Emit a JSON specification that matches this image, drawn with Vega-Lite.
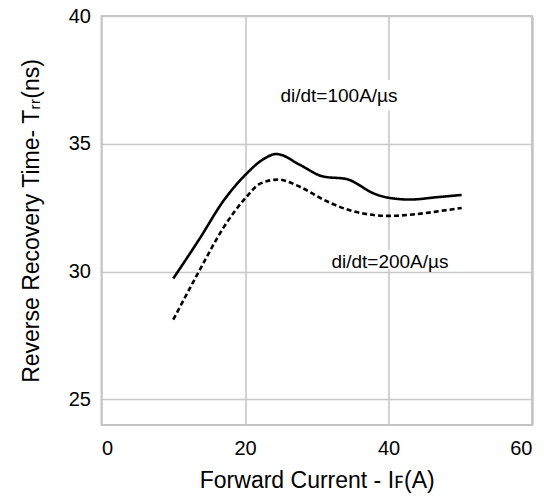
{
  "$schema": "https://vega.github.io/schema/vega-lite/v6.json",
  "autosize": "none",
  "width": 430.5,
  "height": 409,
  "padding": {"left": 101.5, "top": 16, "right": 12, "bottom": 71},
  "background": "white",
  "config": {
    "font": "Liberation Sans",
    "view": {"stroke": "#c4c4c4", "strokeWidth": 2},
    "axis": {"gridColor": "#c8c8c8", "gridWidth": 1.6, "domain": false, "ticks": false, "labelColor": "#000", "titleColor": "#000", "labelFont": "Liberation Sans", "titleFont": "Liberation Sans", "titleFontWeight": "normal"}
  },
  "title": {"text": "Figure 10. Maximum Reverse Recovery Time vs. Forward Current", "anchor": "start", "frame": "group", "dx": -86, "offset": 17, "baseline": "alphabetic", "fontSize": 17, "fontWeight": "normal", "font": "Liberation Sans", "color": "#000"},
  "datasets": {
    "curves": [
      {"rate": "100A/µs", "current": 10.0, "trr": 29.73},
      {"rate": "100A/µs", "current": 13.7, "trr": 31.3},
      {"rate": "100A/µs", "current": 17.0, "trr": 32.77},
      {"rate": "100A/µs", "current": 20.1, "trr": 33.8},
      {"rate": "100A/µs", "current": 22.3, "trr": 34.35},
      {"rate": "100A/µs", "current": 24.4, "trr": 34.6},
      {"rate": "100A/µs", "current": 27.7, "trr": 34.17},
      {"rate": "100A/µs", "current": 30.9, "trr": 33.72},
      {"rate": "100A/µs", "current": 34.2, "trr": 33.62},
      {"rate": "100A/µs", "current": 35.6, "trr": 33.44},
      {"rate": "100A/µs", "current": 37.4, "trr": 33.13},
      {"rate": "100A/µs", "current": 40.0, "trr": 32.89},
      {"rate": "100A/µs", "current": 43.0, "trr": 32.82},
      {"rate": "100A/µs", "current": 46.7, "trr": 32.91},
      {"rate": "100A/µs", "current": 50.2, "trr": 33.0},
      {"rate": "200A/µs", "current": 10.0, "trr": 28.12},
      {"rate": "200A/µs", "current": 13.7, "trr": 30.07},
      {"rate": "200A/µs", "current": 17.0, "trr": 31.72},
      {"rate": "200A/µs", "current": 20.1, "trr": 32.89},
      {"rate": "200A/µs", "current": 22.1, "trr": 33.44},
      {"rate": "200A/µs", "current": 24.6, "trr": 33.6},
      {"rate": "200A/µs", "current": 27.7, "trr": 33.31},
      {"rate": "200A/µs", "current": 30.9, "trr": 32.82},
      {"rate": "200A/µs", "current": 34.6, "trr": 32.4},
      {"rate": "200A/µs", "current": 37.0, "trr": 32.25},
      {"rate": "200A/µs", "current": 40.0, "trr": 32.18},
      {"rate": "200A/µs", "current": 43.9, "trr": 32.25},
      {"rate": "200A/µs", "current": 47.2, "trr": 32.37},
      {"rate": "200A/µs", "current": 50.2, "trr": 32.49}
    ],
    "labels": [
      {"label": "di/dt=100A/µs", "current": 33.1, "trr": 36.88, "x1": 24.9, "x2": 41.5, "y1": 36.3, "y2": 37.5},
      {"label": "di/dt=200A/µs", "current": 40.2, "trr": 30.38, "x1": 31.6, "x2": 48.6, "y1": 30.1, "y2": 30.85}
    ]
  },
  "layer": [
    {
      "data": {"name": "labels"},
      "mark": {"type": "rect", "fill": "white"},
      "encoding": {
        "x": {"field": "x1", "type": "quantitative", "scale": {"domain": [0, 60]}},
        "x2": {"field": "x2"},
        "y": {"field": "y1", "type": "quantitative", "scale": {"domain": [25, 40]}},
        "y2": {"field": "y2"}
      }
    },
    {
      "data": {"name": "curves"},
      "mark": {"type": "line", "interpolate": "monotone", "strokeWidth": 2.6, "color": "black"},
      "encoding": {
        "x": {"field": "current", "type": "quantitative", "scale": {"domain": [0, 60]},
              "axis": {"values": [0, 20, 40, 60], "labelFontSize": 20, "labelPadding": 13, "titleFontSize": 23, "titlePadding": 11, "title": "Forward Current - I\ua730(A)"}},
        "y": {"field": "trr", "type": "quantitative", "scale": {"domain": [25, 40]},
              "axis": {"values": [25, 30, 35, 40], "labelFontSize": 20, "labelPadding": 11, "titleFontSize": 23, "titlePadding": 25, "title": "Reverse Recovery Time- T\u1d63\u1d63(ns)"}},
        "strokeDash": {"field": "rate", "type": "nominal", "scale": {"domain": ["100A/µs", "200A/µs"], "range": [[1, 0], [5, 3]]}, "legend": null},
        "detail": {"field": "rate"}
      }
    },
    {
      "data": {"name": "labels"},
      "mark": {"type": "text", "fontSize": 19, "color": "black", "font": "Liberation Sans"},
      "encoding": {
        "x": {"field": "current", "type": "quantitative"},
        "y": {"field": "trr", "type": "quantitative"},
        "text": {"field": "label"}
      }
    }
  ]
}
